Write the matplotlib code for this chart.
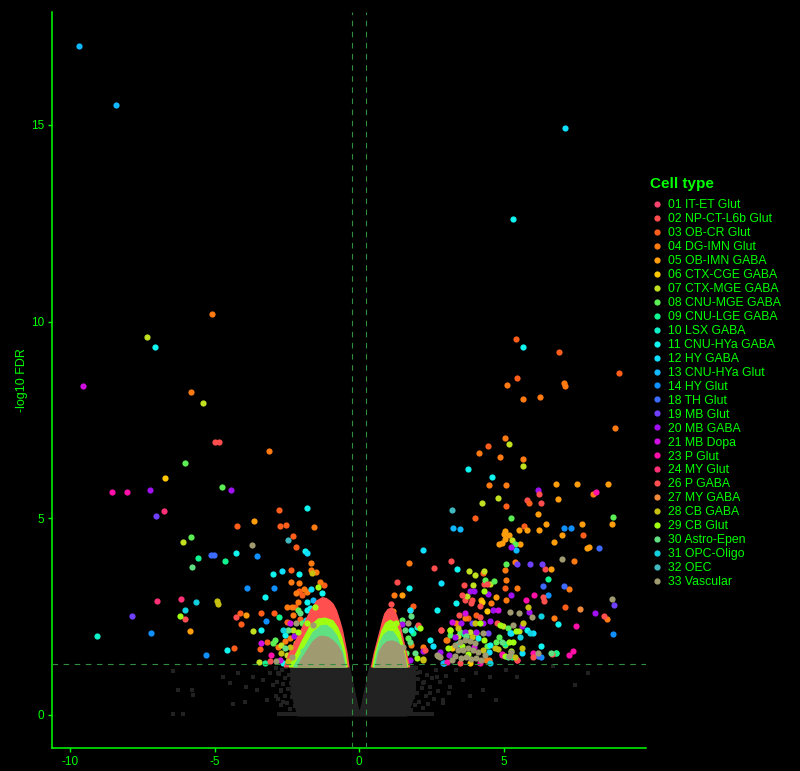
import matplotlib
matplotlib.use("Agg")
import matplotlib.pyplot as plt
from matplotlib.lines import Line2D

plt.rcParams["font.family"] = ["Liberation Sans", "DejaVu Sans"]
plt.rcParams["axes.unicode_minus"] = False

GREEN = "#00ff00"
DASH_GREEN = "#2f8f3f"
NS_GREY = "#222222"

cell_types = [
    "01 IT-ET Glut", "02 NP-CT-L6b Glut", "03 OB-CR Glut", "04 DG-IMN Glut",
    "05 OB-IMN GABA", "06 CTX-CGE GABA", "07 CTX-MGE GABA", "08 CNU-MGE GABA",
    "09 CNU-LGE GABA", "10 LSX GABA", "11 CNU-HYa GABA", "12 HY GABA",
    "13 CNU-HYa Glut", "14 HY Glut", "18 TH Glut", "19 MB Glut", "20 MB GABA",
    "21 MB Dopa", "23 P Glut", "24 MY Glut", "26 P GABA", "27 MY GABA",
    "28 CB GABA", "29 CB Glut", "30 Astro-Epen", "31 OPC-Oligo", "32 OEC",
    "33 Vascular",
]
type_colors = [
    "#f5436e", "#ff4d4d", "#ff5e1a", "#ff7a10", "#ff9e0a", "#ffc800", "#c0e020",
    "#5af055", "#10f590", "#10f0c8", "#10f5f0", "#10e0ff", "#10b8ff", "#1090ff",
    "#3d6bff", "#7040ff", "#a010f0", "#d010e0", "#ff10a8", "#ff3075", "#ff4f4f",
    "#f08a3a", "#c8c010", "#a0ff10", "#60e080", "#10d0e0", "#40b8c0", "#a09a70",
]

# significant genes: (logFC, -log10 FDR, cell type code)
top_hits = [
    (-9.69, 17.0, "13"), (-8.41, 15.5, "13"), (-5.09, 10.19, "04"), (-7.34, 9.60, "07"),
    (-7.06, 9.35, "11"), (-9.55, 8.36, "21"), (-5.81, 8.20, "04"),
    (7.13, 14.92, "12"), (5.33, 12.6, "11"), (5.43, 9.55, "03"), (5.67, 9.35, "11"),
    (6.92, 9.22, "03"), (9.0, 8.69, "03"), (5.47, 8.56, "03"), (5.12, 8.38, "04"),
    (7.10, 8.43, "04"), (7.14, 8.37, "04"), (5.67, 8.03, "04"), (6.26, 8.08, "04"),
    (8.86, 7.29, "04"),
]
left_hits = [
    (-5.40, 7.93, "07"), (-4.99, 6.93, "02"), (-4.84, 6.93, "02"), (-3.11, 6.70, "04"),
    (-6.02, 6.40, "08"), (-6.71, 6.02, "06"), (-4.74, 5.79, "08"), (-4.43, 5.71, "20"),
    (-8.55, 5.66, "23"), (-8.03, 5.66, "23"), (-7.23, 5.71, "20"), (-6.75, 5.18, "24"),
    (-7.02, 5.05, "19"), (-2.77, 5.20, "03"), (-1.80, 5.25, "11"), (-4.22, 4.80, "03"),
    (-3.63, 4.92, "05"), (-2.73, 4.80, "03"), (-2.53, 4.82, "03"), (-1.56, 4.77, "04"),
    (-5.81, 4.52, "08"), (-6.10, 4.39, "07"), (-3.70, 4.31, "33"), (-2.28, 4.54, "03"),
    (-2.46, 4.44, "32"), (-2.18, 4.26, "03"), (-1.87, 4.16, "11"), (-1.80, 4.11, "12"),
    (-5.12, 4.06, "18"), (-5.02, 4.06, "18"), (-4.26, 4.11, "11"), (-3.53, 4.03, "14"),
    (-5.57, 3.98, "09"), (-4.64, 3.91, "09"), (-5.78, 3.75, "30"), (-1.66, 3.86, "04"),
    (-2.35, 3.68, "03"), (-1.66, 3.68, "04"), (-1.49, 3.63, "04"), (-1.63, 3.60, "28"),
    (-2.98, 3.58, "11"), (-2.66, 3.65, "12"), (-2.08, 3.58, "11"), (-2.35, 3.37, "04"),
    (-2.08, 3.35, "04"), (-1.35, 3.37, "04"), (-1.21, 3.30, "03"), (-3.88, 3.24, "14"),
    (-2.94, 3.24, "14"), (-1.66, 3.20, "12"), (-3.25, 2.99, "11"), (-6.99, 2.89, "24"),
    (-6.16, 2.94, "24"), (-5.64, 2.87, "31"), (-4.91, 2.89, "28"), (-4.88, 2.81, "28"),
    (-6.04, 2.66, "31"), (-7.85, 2.51, "19"), (-6.19, 2.51, "29"), (-6.02, 2.43, "26"),
    (-4.12, 2.59, "03"), (-3.91, 2.54, "05"), (-4.26, 2.48, "02"), (-4.08, 2.32, "03"),
    (-3.39, 2.59, "03"), (-2.94, 2.59, "03"), (-9.07, 2.00, "10"), (-7.20, 2.08, "14"),
    (-5.85, 2.13, "05"), (-3.22, 2.38, "14"), (-3.67, 2.13, "07"), (-3.39, 2.15, "11"),
    (-5.29, 1.52, "14"), (-4.57, 1.65, "11"), (-4.33, 1.70, "03"), (-3.39, 1.82, "21"),
    (-3.43, 1.67, "03"), (-3.46, 1.34, "07"), (-3.25, 1.31, "09"), (-3.05, 1.52, "23"),
    (-2.91, 1.90, "08"),
]
left_cluster = [
    (-1.90, 3.19, "04"), (-1.82, 3.12, "04"), (-2.08, 3.15, "03"), (-2.17, 3.09, "04"),
    (-1.99, 3.05, "03"), (-1.59, 2.92, "13"), (-1.82, 2.88, "11"), (-1.30, 3.11, "11"),
    (-1.42, 3.26, "29"), (-2.11, 2.88, "04"), (-2.22, 2.75, "03"), (-2.51, 2.75, "04"),
    (-2.34, 2.75, "04"), (-2.77, 2.48, "09"), (-2.11, 2.67, "08"), (-2.05, 2.59, "30"),
    (-1.82, 2.67, "11"), (-1.71, 2.71, "11"), (-1.53, 2.75, "29"), (-1.59, 2.50, "11"),
    (-1.42, 2.48, "12"), (-1.25, 2.50, "11"), (-2.51, 2.37, "03"), (-2.40, 2.33, "21"),
    (-2.17, 2.33, "33"), (-1.99, 2.33, "08"), (-1.82, 2.33, "29"), (-1.59, 2.29, "33"),
    (-2.63, 2.16, "31"), (-2.46, 2.16, "30"), (-2.28, 2.16, "07"), (-2.11, 2.12, "29"),
    (-1.94, 2.12, "11"), (-1.76, 1.99, "20"), (-3.20, 1.86, "03"), (-2.98, 1.82, "08"),
    (-2.80, 1.74, "04"), (-2.69, 1.78, "07"), (-2.57, 1.70, "30"), (-2.40, 1.74, "28"),
    (-2.17, 1.82, "07"), (-1.99, 1.78, "12"), (-1.82, 1.74, "08"), (-1.71, 1.70, "28"),
    (-2.69, 1.57, "28"), (-2.51, 1.53, "07"), (-2.34, 1.48, "33"), (-2.11, 1.44, "29"),
    (-1.94, 1.48, "07"), (-1.82, 1.40, "33"), (-3.09, 1.36, "26"), (-2.88, 1.36, "33"),
    (-2.74, 1.40, "21"), (-2.63, 1.31, "11"), (-2.46, 1.36, "28"), (-2.17, 1.31, "26"),
    (-2.57, 2.03, "11"), (-1.59, 2.12, "12"), (-1.25, 2.52, "09"), (-1.47, 2.50, "11"),
    (-1.84, 2.42, "12"), (-1.65, 2.46, "11"), (-1.19, 2.37, "29"), (-1.07, 2.33, "29"),
    (-2.30, 2.55, "04"), (-2.05, 2.45, "03"), (-2.40, 1.95, "04"), (-2.25, 2.00, "20"),
    (-2.00, 1.95, "07"), (-1.95, 1.62, "30"), (-2.25, 1.62, "08"), (-2.55, 1.88, "04"),
]
right_near = [
    (1.12, 2.82, "26"), (1.75, 2.67, "12"), (1.18, 2.63, "04"), (1.27, 2.35, "29"),
    (1.50, 2.42, "08"), (1.70, 2.33, "33"), (1.81, 2.52, "30"), (2.04, 2.29, "26"),
    (2.10, 2.20, "29"), (1.47, 2.31, "20"), (1.35, 2.12, "19"), (1.24, 2.03, "20"),
    (1.58, 2.16, "30"), (1.81, 2.16, "11"), (1.87, 2.08, "09"), (2.00, 2.24, "11"),
    (1.70, 1.95, "08"), (1.41, 1.78, "28"), (1.52, 1.74, "33"), (1.75, 1.86, "30"),
    (1.81, 1.78, "04"), (2.21, 1.74, "04"), (2.27, 1.65, "26"), (2.45, 1.91, "11"),
    (2.68, 1.53, "33"), (1.29, 1.65, "07"), (1.47, 1.61, "28"), (1.64, 1.57, "08"),
    (1.47, 1.44, "29"), (1.75, 1.40, "20"), (1.99, 1.44, "29"), (2.21, 1.40, "28"),
    (2.21, 1.62, "20"), (2.79, 1.61, "20"), (2.56, 1.75, "12"), (2.84, 2.15, "26"),
    (3.15, 2.15, "07"), (3.01, 1.90, "04"), (2.73, 1.49, "33"), (2.91, 1.31, "13"),
    (1.92, 1.57, "30"),
]
right_hits = [
    (5.05, 7.03, "04"), (5.19, 6.88, "07"), (4.46, 6.83, "03"), (4.15, 6.65, "04"),
    (4.88, 6.55, "04"), (5.67, 6.50, "04"), (5.67, 6.32, "07"), (3.77, 6.25, "11"),
    (4.60, 6.04, "11"), (4.50, 5.84, "04"), (5.09, 5.84, "04"), (6.19, 5.71, "20"),
    (6.23, 5.61, "26"), (6.82, 5.87, "05"), (7.54, 5.87, "05"), (8.62, 5.87, "05"),
    (8.20, 5.66, "23"), (8.10, 5.61, "04"), (6.89, 5.48, "05"), (5.81, 5.46, "02"),
    (5.88, 5.38, "03"), (6.30, 5.38, "02"), (4.81, 5.51, "07"), (4.26, 5.38, "07"),
    (5.09, 5.31, "03"), (3.22, 5.20, "32"), (6.19, 5.12, "05"), (4.01, 5.00, "03"),
    (5.26, 5.00, "08"), (8.79, 5.02, "08"), (8.75, 4.85, "05"), (7.72, 4.85, "05"),
    (6.47, 4.85, "05"), (5.71, 4.80, "03"), (3.26, 4.74, "13"), (3.49, 4.72, "13"),
    (7.09, 4.74, "14"), (7.34, 4.74, "14"), (6.23, 4.70, "05"), (5.54, 4.70, "05"),
    (5.81, 4.70, "05"), (5.05, 4.67, "05"), (5.02, 4.59, "05"), (5.19, 4.57, "05"),
    (5.05, 4.47, "05"), (4.84, 4.34, "05"), (4.94, 4.36, "05"), (5.57, 4.34, "05"),
    (5.29, 4.44, "07"), (5.40, 4.34, "08"), (5.26, 4.26, "20"), (5.43, 4.19, "13"),
    (7.02, 4.57, "05"), (6.75, 4.39, "05"), (7.75, 4.57, "03"), (7.89, 4.24, "05"),
    (7.96, 4.28, "05"), (8.30, 4.24, "18"), (2.21, 4.19, "12"), (7.02, 3.96, "33"),
    (7.44, 3.91, "04"), (1.73, 3.86, "04"), (3.18, 3.91, "02"), (5.40, 3.88, "04"),
    (5.47, 3.83, "19"), (5.92, 3.83, "19"), (6.33, 3.83, "19"), (5.09, 3.83, "08"),
    (2.60, 3.73, "02"), (3.39, 3.70, "11"), (3.81, 3.65, "07"), (4.01, 3.55, "07"),
    (4.33, 3.65, "07"), (4.30, 3.60, "03"), (5.05, 3.68, "04"), (6.44, 3.70, "02"),
    (6.64, 3.70, "05"), (4.37, 3.43, "08"), (4.54, 3.33, "07"), (4.68, 3.40, "08"),
    (5.09, 3.42, "04"), (6.54, 3.45, "09"), (1.31, 3.37, "02"), (2.84, 3.35, "12"),
    (5.05, 3.22, "03"), (5.45, 3.22, "04"), (5.26, 3.06, "20"), (6.37, 3.27, "18"),
    (7.09, 3.27, "18"), (7.27, 3.20, "04"), (6.54, 3.04, "14"), (6.06, 3.04, "23"),
    (5.78, 2.92, "23"), (6.37, 2.99, "26"), (6.40, 2.89, "26"), (5.09, 2.92, "04"),
    (1.21, 3.06, "04"), (1.49, 3.04, "05"), (1.73, 3.24, "11"), (1.87, 2.76, "03"),
    (1.76, 2.66, "04"), (2.71, 2.66, "11"), (3.36, 2.84, "11"), (5.22, 2.61, "33"),
    (5.54, 2.59, "33"), (5.89, 2.61, "20"), (5.98, 2.48, "33"), (6.30, 2.51, "31"),
    (5.86, 2.74, "28"), (6.75, 2.46, "04"), (7.13, 2.74, "03"), (7.65, 2.69, "27"),
    (8.17, 2.59, "20"), (8.49, 2.51, "26"), (8.58, 2.43, "04"), (8.75, 2.94, "33"),
    (8.82, 2.79, "19"), (8.79, 2.05, "14"), (7.51, 2.25, "23"), (6.89, 2.30, "11"),
    (7.41, 1.62, "23"), (7.27, 1.52, "23"), (6.82, 1.57, "08"), (6.68, 1.54, "26"),
    (6.30, 1.75, "11"), (6.19, 1.49, "18"), (6.02, 1.47, "26"), (5.92, 2.08, "31"),
    (6.02, 2.08, "12"), (5.81, 2.16, "11"), (5.57, 1.98, "31"), (5.64, 1.70, "28"),
    (5.64, 1.57, "12"), (5.47, 1.39, "23"), (5.67, 2.35, "28"), (5.64, 2.25, "20"),
    (5.29, 1.47, "09"), (5.19, 1.49, "33"), (4.95, 1.52, "23"), (5.33, 1.85, "29"),
    (5.26, 1.62, "29"), (5.22, 2.08, "12"), (5.05, 1.80, "09"), (4.85, 1.98, "08"),
    (4.71, 1.70, "28"),
]
right_cluster = [
    (3.63, 3.30, "02"), (3.94, 3.30, "07"), (4.33, 3.33, "02"), (4.43, 3.33, "26"),
    (3.83, 3.15, "20"), (3.97, 3.15, "20"), (4.31, 3.15, "29"), (4.46, 3.07, "20"),
    (4.75, 2.99, "05"), (3.56, 3.04, "26"), (3.75, 3.02, "07"), (3.67, 2.92, "02"),
    (3.87, 2.84, "26"), (3.89, 2.92, "02"), (4.21, 2.92, "05"), (4.25, 2.87, "06"),
    (4.18, 2.76, "26"), (4.56, 2.84, "04"), (4.79, 2.67, "21"), (4.41, 2.64, "06"),
    (4.64, 2.67, "20"), (3.46, 2.54, "26"), (3.68, 2.59, "21"), (4.06, 2.54, "03"),
    (4.18, 2.48, "26"), (3.20, 2.36, "21"), (3.35, 2.33, "04"), (3.54, 2.33, "20"),
    (3.66, 2.46, "04"), (3.77, 2.46, "03"), (3.89, 2.33, "19"), (4.00, 2.33, "28"),
    (4.18, 2.33, "29"), (4.29, 2.35, "20"), (4.52, 2.40, "20"), (4.78, 2.33, "26"),
    (4.87, 2.28, "29"), (4.98, 2.25, "07"), (5.14, 2.20, "08"), (5.32, 2.28, "33"),
    (5.42, 2.14, "29"), (5.52, 2.14, "07"), (5.24, 2.09, "12"), (2.83, 2.15, "26"),
    (3.16, 2.15, "29"), (3.03, 1.91, "04"), (3.43, 2.20, "28"), (3.48, 2.12, "08"),
    (3.66, 2.12, "20"), (3.83, 2.12, "07"), (4.06, 2.12, "20"), (4.29, 2.08, "33"),
    (4.46, 2.09, "19"), (4.75, 1.86, "08"), (4.93, 1.86, "30"), (5.19, 1.86, "29"),
    (5.04, 1.77, "07"), (4.52, 1.78, "11"), (4.81, 1.67, "28"), (5.27, 1.61, "33"),
    (5.05, 1.50, "29"), (5.39, 1.48, "28"), (4.96, 1.55, "23"), (5.15, 1.48, "30"),
    (6.02, 1.57, "23"), (6.19, 1.57, "33"), (6.63, 1.57, "30"), (6.83, 1.57, "09"),
    (6.28, 1.48, "14"), (5.47, 1.39, "26"), (4.50, 1.39, "04"), (2.21, 1.41, "28"),
    (2.79, 1.48, "33"), (2.93, 1.31, "13"),
]
right_core = [
    (3.14, 2.03, "08"), (3.07, 1.70, "29"), (3.10, 1.53, "20"), (3.03, 1.35, "23"),
    (3.32, 1.98, "20"), (3.42, 2.01, "07"), (3.69, 2.01, "30"), (3.90, 1.98, "28"),
    (4.11, 1.96, "11"), (4.31, 1.91, "29"), (4.42, 1.75, "08"), (4.28, 1.65, "28"),
    (4.49, 1.60, "12"), (4.38, 1.40, "04"), (4.52, 1.32, "31"), (4.18, 1.32, "23"),
    (3.83, 1.32, "06"), (3.48, 1.32, "26"), (3.20, 1.70, "06"), (3.55, 1.75, "29"),
    (3.97, 1.73, "21"), (3.76, 1.55, "29"), (3.42, 1.80, "11"), (4.04, 2.08, "07"),
    (3.62, 2.06, "09"),
    (3.31, 1.78, "33"), (3.48, 1.86, "33"), (3.66, 1.91, "33"), (3.83, 1.88, "33"),
    (4.01, 1.83, "33"), (3.42, 1.65, "33"), (3.59, 1.65, "33"), (3.76, 1.70, "33"),
    (3.93, 1.65, "33"), (4.11, 1.60, "33"), (3.31, 1.50, "33"), (3.52, 1.45, "33"),
    (3.69, 1.47, "33"), (3.87, 1.42, "33"), (4.04, 1.45, "33"), (4.21, 1.40, "33"),
    (3.20, 1.40, "33"), (4.35, 1.53, "33"),
]

# dense significant bands next to the threshold, as (logFC, top edge) outlines
arc26_left = [(-2.62, 1.25), (-2.45, 1.60), (-2.22, 1.91), (-1.97, 2.29), (-1.72, 2.67),
              (-1.50, 2.92), (-1.29, 3.01), (-1.15, 2.99), (-1.01, 2.92), (-0.90, 2.84),
              (-0.78, 2.67), (-0.67, 2.42), (-0.57, 2.16), (-0.49, 1.86), (-0.41, 1.57),
              (-0.35, 1.25)]
arc29_left = [(-2.45, 1.25), (-2.25, 1.53), (-2.00, 1.91), (-1.72, 2.29), (-1.43, 2.47),
              (-1.19, 2.49), (-0.91, 2.42), (-0.74, 2.24), (-0.60, 1.98), (-0.49, 1.65),
              (-0.41, 1.25)]
arc30_left = [(-2.30, 1.25), (-2.14, 1.45), (-1.89, 1.78), (-1.64, 2.11), (-1.36, 2.29),
              (-1.15, 2.31), (-0.95, 2.21), (-0.77, 2.03), (-0.63, 1.78), (-0.53, 1.53),
              (-0.46, 1.25)]
arc33_left = [(-2.14, 1.25), (-2.06, 1.40), (-1.84, 1.65), (-1.64, 1.88), (-1.43, 2.01),
              (-1.29, 2.03), (-1.08, 2.00), (-0.91, 1.91), (-0.74, 1.78), (-0.60, 1.60),
              (-0.49, 1.25)]
arc26_right = [(0.39, 1.25), (0.48, 1.57), (0.60, 1.91), (0.69, 2.16), (0.78, 2.42),
               (0.85, 2.59), (0.97, 2.71), (1.13, 2.75), (1.29, 2.57), (1.44, 2.24),
               (1.58, 1.78), (1.75, 1.25)]
arc29_right = [(0.44, 1.25), (0.53, 1.60), (0.65, 1.91), (0.75, 2.16), (0.89, 2.36),
               (1.06, 2.44), (1.24, 2.36), (1.41, 2.11), (1.55, 1.70), (1.69, 1.25)]
arc30_right = [(0.49, 1.25), (0.58, 1.60), (0.68, 1.86), (0.82, 2.06), (0.99, 2.16),
               (1.17, 2.14), (1.34, 1.96), (1.48, 1.65), (1.62, 1.25)]
arc33_right = [(0.54, 1.25), (0.64, 1.60), (0.78, 1.78), (0.95, 1.89), (1.13, 1.91),
               (1.30, 1.87), (1.48, 1.75), (1.58, 1.53), (1.65, 1.25)]

# non-significant genes: dense core outline, FDR = 1 floor, scattered points
ns_core_x = [-2.40, -2.15, -0.34, -0.03, 0.0, 0.03, 0.34, 1.65, 1.95]
ns_core_top = [1.27, 1.27, 1.27, 0.20, 0.13, 0.20, 1.27, 1.27, 1.27]
ns_core_bottom = [0.60, -0.03, -0.03, -0.03, -0.03, -0.03, -0.03, -0.03, 0.55]
ns_floor_x = [-2.85, 2.60]
ns_floor_top = [0.07, 0.07]
ns_points = [
    (-6.44, 1.13), (-6.26, 0.64), (-5.80, 0.64), (-5.74, 0.51), (-6.43, 0.02),
    (-6.09, 0.02), (-4.71, 0.97), (-4.47, 0.81), (-4.36, 0.28), (-4.19, 1.06),
    (-3.96, 0.34), (-3.90, 0.72), (-3.67, 0.97), (-3.55, 0.64), (-3.32, 0.89),
    (-3.20, 0.38), (-3.09, 1.06), (-2.98, 0.76), (-2.86, 0.47), (-2.80, 1.06),
    (-2.69, 0.64), (-2.63, 0.34),
    (-2.88, 1.20), (-2.84, 0.85), (-2.80, 0.40), (-2.76, 1.05), (-2.72, 0.62),
    (-2.70, 0.25), (-2.66, 1.15), (-2.62, 0.78), (-2.58, 0.48), (-2.55, 0.95),
    (-2.52, 1.22), (-2.49, 0.30), (-2.46, 0.66), (-2.43, 1.02), (-2.40, 0.15),
    (-2.37, 0.82), (-2.34, 0.45), (-2.31, 1.18), (-2.28, 0.58), (-2.25, 0.92),
    (-2.22, 0.22), (-2.20, 0.72), (-2.18, 1.08), (-2.17, 0.38),
    (1.68, 0.95), (1.70, 0.35), (1.73, 1.18), (1.76, 0.62), (1.79, 0.12),
    (1.82, 0.85), (1.85, 1.05), (1.88, 0.45), (1.91, 0.75), (1.94, 0.25),
    (1.97, 1.20), (2.00, 0.55), (2.04, 0.92), (2.08, 0.32), (2.12, 1.10),
    (2.16, 0.68), (2.20, 0.18), (2.25, 0.85), (2.30, 0.48), (2.35, 1.02),
    (2.40, 0.28), (2.46, 0.70), (2.52, 0.95), (2.58, 0.40), (2.65, 1.15),
    (2.72, 0.60), (2.80, 0.85), (2.90, 0.30), (3.00, 1.00), (3.10, 0.55),
    (1.99, 1.06), (2.21, 0.81), (2.45, 0.55), (2.68, 0.97), (2.91, 0.38),
    (3.14, 0.72), (3.37, 1.14), (3.60, 0.89), (3.83, 0.47), (4.06, 1.06),
    (4.29, 0.64), (4.52, 0.97), (4.75, 0.38), (5.10, 1.14), (5.45, 0.97),
    (6.71, 1.25), (7.46, 0.76), (7.92, 1.06),
]

codes = [name[:2] for name in cell_types]
arcs = {
    "26": [arc26_left, arc26_right],
    "29": [arc29_left, arc29_right],
    "30": [arc30_left, arc30_right],
    "33": [arc33_left, arc33_right],
}
sig = top_hits + left_hits + left_cluster + right_near + right_hits + right_cluster + right_core

fig = plt.figure(figsize=(8, 7.71), dpi=100, facecolor="black")
ax = fig.add_axes([52.3 / 800, 23 / 771, (646 - 52.3) / 800, 736 / 771])
ax.set_facecolor("black")

# non-significant
ax.fill_between(ns_core_x, ns_core_bottom, ns_core_top, color=NS_GREY, lw=0, zorder=1)
ax.fill_between(ns_floor_x, -0.03, ns_floor_top, color=NS_GREY, lw=0, zorder=1)
ax.scatter([p[0] for p in ns_points], [p[1] for p in ns_points], s=5, marker="s",
           c=NS_GREY, linewidths=0, zorder=1)

# significant, in cell type order so later types sit on top
for i, (code, col) in enumerate(zip(codes, type_colors)):
    z = 3 + i
    for arc in arcs.get(code, []):
        ax.fill_between([p[0] for p in arc], 1.22, [p[1] for p in arc],
                        color=col, lw=0, zorder=z)
    pts = [p for p in sig if p[2] == code]
    if pts:
        ax.scatter([p[0] for p in pts], [p[1] for p in pts], s=20, c=col,
                   linewidths=0, zorder=z)

# thresholds
ax.axhline(1.301, color=DASH_GREEN, lw=0.8, ls=(0, (5, 5)), zorder=40)
for v in (-0.25, 0.25):
    ax.axvline(v, color=DASH_GREEN, lw=0.8, ls=(0, (5, 5)), zorder=40)

ax.set_xlim(-10.62, 9.93)
ax.set_ylim(-0.84, 17.87)
ax.set_xticks([-10, -5, 0, 5])
ax.set_yticks([0, 5, 10, 15])
ax.set_ylabel("-log10 FDR", color=GREEN, fontsize=9, labelpad=2)
ax.tick_params(colors=GREEN, labelcolor=GREEN, labelsize=8.5, length=3, width=1, pad=3)
for s in ("top", "right"):
    ax.spines[s].set_visible(False)
for s in ("left", "bottom"):
    ax.spines[s].set_color(GREEN)
    ax.spines[s].set_linewidth(1.1)

handles = [Line2D([], [], marker="o", ls="", color=c, markersize=4.5, markeredgewidth=0)
           for c in type_colors]
leg = fig.legend(handles, cell_types, loc="upper left",
                 bbox_to_anchor=(650.5 / 800, 1 - 177 / 771), frameon=False,
                 title="Cell type", alignment="left", fontsize=8.8,
                 title_fontproperties={"weight": "bold", "size": 11},
                 labelcolor=GREEN, handlelength=1.0, handletextpad=0.4,
                 labelspacing=0.16, borderpad=0, borderaxespad=0)
leg.get_title().set_color(GREEN)
leg._legend_box.sep = 6

fig.savefig("out.png", dpi=100, facecolor="black")
